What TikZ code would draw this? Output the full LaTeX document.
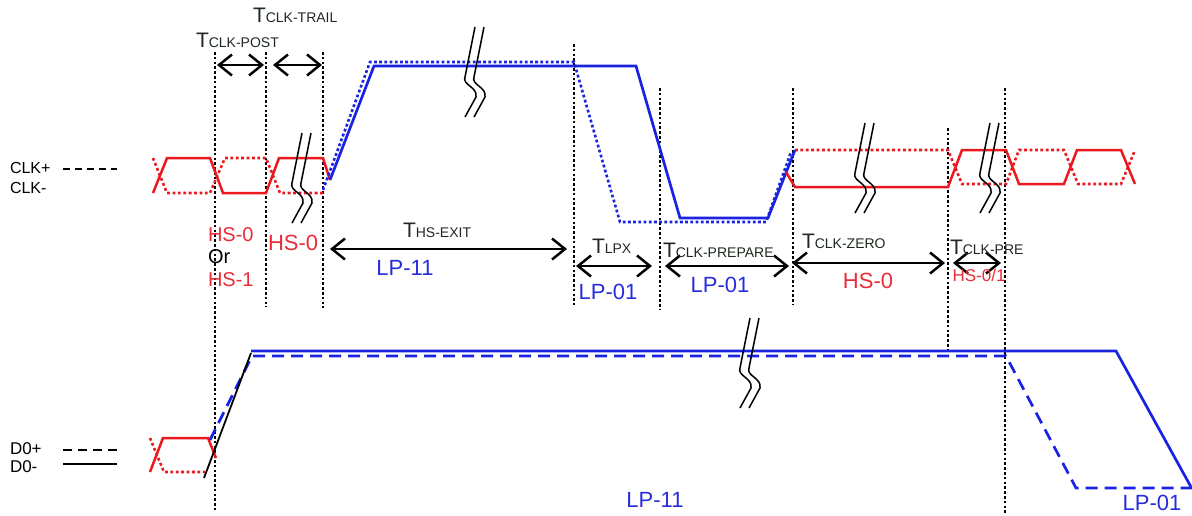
\documentclass[tikz,border=0pt]{standalone}
\usepackage{fontspec}
\setmainfont{Liberation Sans}
\usetikzlibrary{arrows.meta}
\definecolor{sigred}{RGB}{235,25,30}
\definecolor{sigblue}{RGB}{25,35,225}
\definecolor{txtred}{RGB}{232,45,55}
\definecolor{txtblue}{RGB}{40,45,220}
\definecolor{tdark}{RGB}{30,40,30}
\newcommand\Tlab[1]{{\fontsize{21}{21}\selectfont T}{\fontsize{14}{14}\selectfont #1}}
\newcommand\fs[1]{\fontsize{#1}{#1}\selectfont}
\tikzset{
  vdot/.style={black, line width=2.6pt, dash pattern=on 2.6pt off 2.2pt},
  rsol/.style={sigred, line width=2.5pt},
  rdot/.style={sigred, line width=2.6pt, dash pattern=on 2.8pt off 2.6pt},
  bsol/.style={sigblue, line width=2.7pt},
  bdot/.style={sigblue, line width=2.6pt, dash pattern=on 2.8pt off 2.4pt},
  bdash/.style={sigblue, line width=2.7pt, dash pattern=on 12pt off 7pt},
  dimarrow/.style={line width=2.5pt, black,
    {Straight Barb[length=13pt,width=21pt]}-{Straight Barb[length=13pt,width=21pt]}},
  brkline/.style={black, line width=1.5pt},
  lbl/.style={inner sep=0pt, outer sep=0pt},
  brk/.pic={
    \draw[brkline] (10,0) -- (0,50) .. controls (-3,58) and (13,60) .. (11,70) -- (0,90);
    \draw[brkline] (19,0) -- (9,50) .. controls (6,58) and (22,60) .. (20,70) -- (9,90);
  }
}
\begin{document}
\begin{tikzpicture}[x=1pt,y=-1pt]
\useasboundingbox (0,0) rectangle (1192,515);

% vertical dotted markers
\draw[vdot] (215,52) -- (215,510);
\draw[vdot] (266,52) -- (266,307);
\draw[vdot] (323,52) -- (323,308);
\draw[vdot] (574,44) -- (574,305);
\draw[vdot] (660,88) -- (660,310);
\draw[vdot] (793,88) -- (793,305);
\draw[vdot] (948,128) -- (948,349);
\draw[vdot] (1005,88) -- (1005,515);

% legends
\node[lbl, anchor=west] (clkp) at (10,168) {\fs{16}CLK+};
\node[lbl, anchor=west] (clkm) at (10,188) {\fs{16}CLK-};
\draw[black, line width=2pt, dash pattern=on 7pt off 5pt] (63,169) -- (117,169);
\node[lbl, anchor=west] (dp) at (10,449) {\fs{17}D0+};
\node[lbl, anchor=west] (dm) at (10,467) {\fs{17}D0-};
\draw[black, line width=2pt, dash pattern=on 9pt off 6pt] (63,450) -- (117,450);
\draw[black, line width=2pt] (63,464) -- (117,464);

% CLK left HS part
\draw[rdot] (153,158) -- (167,193) -- (210,193) -- (225,158) -- (266,158) -- (280,193) -- (323,193);
\draw[rsol] (153,193) -- (167,158) -- (210,158) -- (223,193) -- (266,193) -- (279,158) -- (323,158) -- (330,180);

% CLK LP part
\draw[bdot] (323,190) -- (370,62) -- (574,62) -- (620,222) -- (766,222) -- (791,152);
\draw[bsol] (330,180) -- (374,66) -- (636,66) -- (680,218) -- (768,218) -- (795,150);

% CLK right HS part
\draw[rdot] (795,150) -- (948,150) -- (962,184) -- (1006,184) -- (1019,150) -- (1064,150) -- (1078,184) -- (1121,184) -- (1135,150);
\draw[rsol] (786,172) -- (795,187) -- (948,187) -- (962,150) -- (1006,150) -- (1019,184) -- (1064,184) -- (1077,150) -- (1121,150) -- (1135,184);

% D0
\draw[rdot] (150,438) -- (164,472) -- (205,472);
\draw[rsol] (150,472) -- (163,438) -- (208,438) -- (216,458);
\draw[bdash] (210,440) -- (252,356) -- (1006,356) -- (1076,488) -- (1192,488);
\draw[bsol] (251,351) -- (1116,351) -- (1191,487);
\draw[black, line width=1.8pt] (204,478) -- (251,353);

% breaks
\pic at (292,133) {brk};
\pic at (465,27) {brk};
\pic at (855,123) {brk};
\pic at (980,123) {brk};
\pic at (740,318) {brk};

% dimension arrows
\coordinate (a1l) at (217,65); \coordinate (a1r) at (264,65);
\coordinate (a2l) at (273,65); \coordinate (a2r) at (322,65);
\coordinate (a3l) at (330,249); \coordinate (a3r) at (567,249);
\coordinate (a4l) at (576,266); \coordinate (a4r) at (652,266);
\coordinate (a5l) at (665,266); \coordinate (a5r) at (789,266);
\coordinate (a6l) at (792,263); \coordinate (a6r) at (945,263);
\coordinate (a7l) at (953,263); \coordinate (a7r) at (1001,263);
\draw[dimarrow] (a1l) -- (a1r);
\draw[dimarrow] (a2l) -- (a2r);
\draw[dimarrow] (a3l) -- (a3r);
\draw[dimarrow] (a4l) -- (a4r);
\draw[dimarrow] (a5l) -- (a5r);
\draw[dimarrow] (a6l) -- (a6r);
\draw[dimarrow] (a7l) -- (a7r);

% timing labels
\node[lbl, anchor=base west, text=tdark] (ttrail) at (253,22) {\Tlab{CLK-TRAIL}};
\node[lbl, anchor=base west, text=tdark] (tpost) at (196,47) {\Tlab{CLK-POST}};
\node[lbl, anchor=base west, text=tdark] (texit) at (403,237) {\Tlab{HS-EXIT}};
\node[lbl, anchor=base west, text=tdark] (tlpx) at (592,253) {\Tlab{LPX}};
\node[lbl, anchor=base west, text=tdark] (tprep) at (663,257) {\Tlab{CLK-PREPARE}};
\node[lbl, anchor=base west, text=tdark] (tzero) at (802,248) {\Tlab{CLK-ZERO}};
\node[lbl, anchor=base west, text=tdark] (tpre) at (950,254) {\Tlab{CLK-PRE}};

% state labels
\node[lbl, anchor=west, text=txtred] (hs0a) at (208,235) {\fs{20}HS-0};
\node[lbl, anchor=west, text=black] (or) at (208,257) {\fs{20}Or};
\node[lbl, anchor=west, text=txtred] (hs1) at (208,280) {\fs{20}HS-1};
\node[lbl, anchor=west, text=txtred] (hs0b) at (268,243) {\fs{22}HS-0};
\node[lbl, text=txtblue] (lp11a) at (405,268) {\fs{22}LP-11};
\node[lbl, text=txtblue] (lp01a) at (608,292) {\fs{22}LP-01};
\node[lbl, text=txtblue] (lp01b) at (720,285) {\fs{22}LP-01};
\node[lbl, text=txtred] (hs0c) at (868,281) {\fs{22}HS-0};
\node[lbl, text=txtred] (hs01) at (979,275) {\fs{17}HS-0/1};
\node[lbl, text=txtblue] (lp11b) at (655,500) {\fs{22}LP-11};
\node[lbl, text=txtblue] (lp01c) at (1152,503) {\fs{22}LP-01};
\end{tikzpicture}
\end{document}
